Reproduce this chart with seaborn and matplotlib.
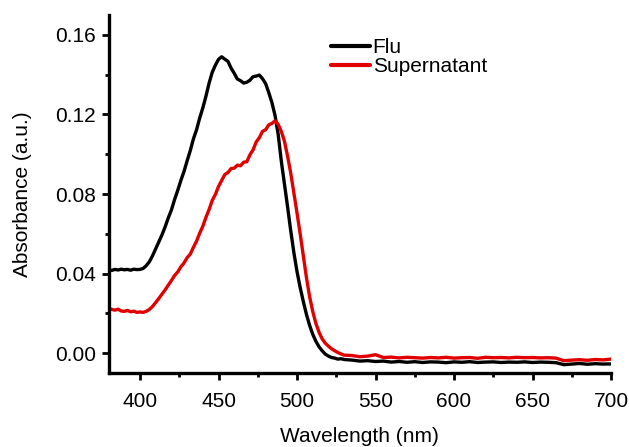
import numpy as np
import pandas as pd
import matplotlib
matplotlib.use("Agg")
import matplotlib.pyplot as plt
from matplotlib.ticker import MultipleLocator
import seaborn as sns

wl_fine = list(range(380, 530, 2))
wl_tail = list(range(530, 705, 5))
wavelength = wl_fine + wl_tail

flu = [
    0.0420, 0.0416, 0.0421, 0.0418, 0.0422, 0.0419, 0.0421, 0.0417, 0.0422, 0.0420,
    0.0421, 0.0426, 0.0440, 0.0460, 0.0490, 0.0525, 0.0560, 0.0595, 0.0635, 0.0680,
    0.0720, 0.0772, 0.0818, 0.0868, 0.0913, 0.0967, 0.1018, 0.1077, 0.1123, 0.1182,
    0.1233, 0.1292, 0.1358, 0.1412, 0.1448, 0.1477, 0.1490, 0.1478, 0.1467, 0.1433,
    0.1407, 0.1378, 0.1370, 0.1358, 0.1362, 0.1372, 0.1390, 0.1393, 0.1398, 0.1380,
    0.1355, 0.1310, 0.1260, 0.1195, 0.1100, 0.0965, 0.0850, 0.0735, 0.0615, 0.0505,
    0.0410, 0.0330, 0.0260, 0.0195, 0.0140, 0.0095, 0.0060, 0.0032, 0.0012, -0.0005,
    -0.0015, -0.0022, -0.0025, -0.0030, -0.0028,
    -0.0032, -0.0035, -0.0040, -0.0038, -0.0042, -0.0040, -0.0045, -0.0042, -0.0046, -0.0043,
    -0.0047, -0.0044, -0.0045, -0.0048, -0.0044, -0.0046, -0.0043, -0.0047, -0.0045, -0.0044,
    -0.0047, -0.0045, -0.0046, -0.0044, -0.0047, -0.0045, -0.0046, -0.0048, -0.0058, -0.0055,
    -0.0052, -0.0056, -0.0053, -0.0055, -0.0054,
]

supernatant = [
    0.0225, 0.0220, 0.0216, 0.0221, 0.0212, 0.0210, 0.0215, 0.0208, 0.0211, 0.0205,
    0.0207, 0.0205, 0.0210, 0.0220, 0.0235, 0.0255, 0.0275, 0.0297, 0.0318, 0.0342,
    0.0365, 0.0390, 0.0408, 0.0434, 0.0453, 0.0480, 0.0498, 0.0532, 0.0563, 0.0603,
    0.0638, 0.0683, 0.0722, 0.0768, 0.0798, 0.0838, 0.0868, 0.0898, 0.0908, 0.0928,
    0.0930, 0.0945, 0.0942, 0.0960, 0.0962, 0.0997, 0.1022, 0.1062, 0.1083, 0.1115,
    0.1123, 0.1148, 0.1155, 0.1168, 0.1150, 0.1115, 0.1065, 0.0990, 0.0905, 0.0805,
    0.0705, 0.0600, 0.0490, 0.0380, 0.0285, 0.0210, 0.0150, 0.0105, 0.0072, 0.0050,
    0.0035, 0.0022, 0.0012, 0.0003, -0.0004,
    -0.0010, -0.0012, -0.0018, -0.0015, -0.0008, -0.0022, -0.0020, -0.0024, -0.0021, -0.0023,
    -0.0025, -0.0022, -0.0024, -0.0021, -0.0025, -0.0023, -0.0022, -0.0026, -0.0021, -0.0023,
    -0.0022, -0.0024, -0.0021, -0.0023, -0.0022, -0.0024, -0.0023, -0.0025, -0.0038, -0.0035,
    -0.0033, -0.0036, -0.0032, -0.0034, -0.0030,
]

series_names = ["Flu", "Supernatant"]
colors = ["#000000", "#e00000"]
xticks = [400, 450, 500, 550, 600, 650, 700]
yticks = [0.00, 0.04, 0.08, 0.12, 0.16]

df = pd.concat([
    pd.DataFrame({"Wavelength": wavelength, "Absorbance": flu, "Sample": series_names[0]}),
    pd.DataFrame({"Wavelength": wavelength, "Absorbance": supernatant, "Sample": series_names[1]}),
])

sns.set_style("ticks")
plt.rcParams["font.family"] = ["Liberation Sans", "DejaVu Sans"]
plt.rcParams["text.color"] = "black"
plt.rcParams["axes.labelcolor"] = "black"
plt.rcParams["xtick.color"] = "black"
plt.rcParams["ytick.color"] = "black"

fig = plt.figure(figsize=(6.29, 4.47), dpi=100)
ax = fig.add_axes([0.1727, 0.1655, 0.9714 - 0.1727, 0.9664 - 0.1655])

sns.lineplot(data=df, x="Wavelength", y="Absorbance", hue="Sample",
             palette=dict(zip(series_names, colors)), linewidth=2.4, ax=ax,
             legend=True, estimator=None)

ax.set_xlim(380, 700)
ax.set_ylim(-0.01, 0.17)
ax.set_xticks(xticks)
ax.set_yticks(yticks)
ax.set_yticklabels([f"{v:.2f}" for v in yticks])
ax.xaxis.set_minor_locator(MultipleLocator(25))
ax.yaxis.set_minor_locator(MultipleLocator(0.02))

for s in ["top", "right"]:
    ax.spines[s].set_visible(False)
for s in ["left", "bottom"]:
    ax.spines[s].set_linewidth(2.4)
    ax.spines[s].set_color("black")

ax.tick_params(axis="both", which="major", direction="out", length=5, width=2,
               labelsize=15, color="black", labelcolor="black")
ax.tick_params(axis="both", which="minor", direction="out", length=3, width=2, color="black")
ax.tick_params(axis="x", which="major", pad=9)
ax.tick_params(axis="y", which="major", pad=4)

ax.set_xlabel("Wavelength (nm)", fontsize=15, labelpad=11, color="black")
ax.set_ylabel("Absorbance (a.u.)", fontsize=15, labelpad=17, color="black")

leg = ax.legend(loc="upper left", bbox_to_anchor=(331 / 629, 1 - 38 / 447),
                bbox_transform=fig.transFigure, frameon=False, fontsize=15,
                handlelength=1.85, handletextpad=0.15, labelspacing=0.0,
                borderpad=0, borderaxespad=0)
for line in leg.get_lines():
    line.set_linewidth(3)
for t in leg.get_texts():
    t.set_color("black")

fig.savefig("out.png", dpi=100)
